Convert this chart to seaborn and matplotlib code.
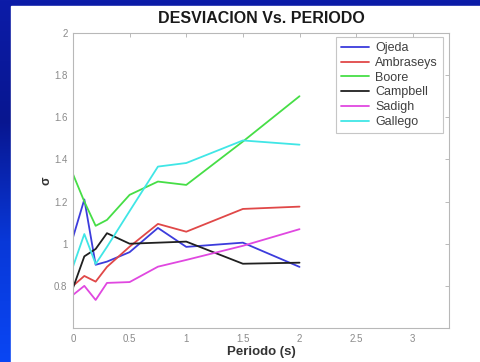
import numpy as np
import pandas as pd
import matplotlib
matplotlib.use("Agg")
import matplotlib.pyplot as plt
import seaborn as sns
from matplotlib.patches import Rectangle

sns.set_style("white")
plt.rcParams["font.family"] = ["Liberation Sans", "DejaVu Sans"]

# Periodos (s) and standard deviation for each attenuation model
periodo = [0.0, 0.1, 0.2, 0.3, 0.5, 0.75, 1.0, 1.5, 2.0]
ojeda = [1.03, 1.21, 0.90, 0.915, 0.96, 1.075, 0.985, 1.005, 0.89]
ambraseys = [0.80, 0.847, 0.82, 0.89, 0.986, 1.094, 1.057, 1.165, 1.176]
boore = [1.33, 1.20, 1.085, 1.113, 1.232, 1.295, 1.279, 1.485, 1.70]
campbell = [0.79, 0.94, 0.975, 1.05, 1.00, 1.005, 1.01, 0.905, 0.91]
sadigh = [0.757, 0.80, 0.733, 0.814, 0.818, 0.891, 0.923, 0.99, 1.069]
gallego = [0.891, 1.046, 0.904, 0.985, 1.155, 1.366, 1.383, 1.49, 1.47]

modelos = ["Ojeda", "Ambraseys", "Boore", "Campbell", "Sadigh", "Gallego"]
series = [ojeda, ambraseys, boore, campbell, sadigh, gallego]
colores = ["#3c3cdc", "#e04848", "#46de46", "#202020", "#e048e0", "#40e6e6"]

df = pd.concat(
    [pd.DataFrame({"Periodo": periodo, "sigma": vals, "Modelo": name})
     for name, vals in zip(modelos, series)],
    ignore_index=True,
)

W, H = 481, 362
fig = plt.figure(figsize=(W / 100, H / 100), dpi=100)

# Slide-style blue gradient background with a white panel
bg = fig.add_axes([0, 0, 1, 1], zorder=-10)
grad = np.linspace(0, 1, 256)[:, None]
cmap = matplotlib.colors.LinearSegmentedColormap.from_list(
    "slide", ["#0c1ca8", "#081690", "#0838d8", "#0a46f4"])
bg.imshow(grad, aspect="auto", cmap=cmap, extent=[0, 1, 0, 1], origin="upper")
bg.add_patch(Rectangle((11 / W, 0), 1 - 11 / W, 1 - 6 / H,
                       transform=bg.transAxes, color="white", zorder=2))
bg.set_xlim(0, 1)
bg.set_ylim(0, 1)
bg.axis("off")

ax = fig.add_axes([73 / W, 1 - 328 / H, 376 / W, 295 / H])
sns.lineplot(data=df, x="Periodo", y="sigma", hue="Modelo",
             palette=dict(zip(modelos, colores)), linewidth=1.3,
             ax=ax, sort=False)

ax.set_xlim(0, 3.32)
ax.set_ylim(0.6, 2.0)
ax.set_xticks([0, 0.5, 1, 1.5, 2, 2.5, 3])
ax.set_xticklabels(["0", "0.5", "1", "1.5", "2", "2.5", "3"])
ax.set_yticks([0.8, 1.0, 1.2, 1.4, 1.6, 1.8, 2.0])
ax.set_yticklabels(["0.8", "1", "1.2", "1.4", "1.6", "1.8", "2"])
ax.tick_params(direction="in", length=3, width=0.6, colors="#b0b0b0",
               labelcolor="#8a8a8a", labelsize=7, top=True, right=True,
               pad=4)
for s in ax.spines.values():
    s.set_color("#b8b8b8")
    s.set_linewidth(0.8)

ax.set_title("DESVIACION Vs. PERIODO", fontsize=11.5, fontweight="bold",
             color="#1a1a1a", pad=7)
ax.set_xlabel("Periodo (s)", fontsize=9.5, fontweight="bold", color="#333333",
              labelpad=2)
ax.set_ylabel("σ", fontsize=9, fontweight="bold", color="#333333",
              rotation=90, labelpad=1)

leg = ax.legend(loc="upper right", bbox_to_anchor=(0.984, 0.986),
                borderaxespad=0, fontsize=9, frameon=True, fancybox=False,
                handlelength=2.2, handletextpad=0.5, borderpad=0.4,
                labelspacing=0.22)
leg.get_frame().set_edgecolor("#b8b8b8")
leg.get_frame().set_linewidth(0.8)
for t in leg.get_texts():
    t.set_color("#404040")
for line in leg.get_lines():
    line.set_linewidth(1.3)

fig.savefig("out.png", dpi=100)
